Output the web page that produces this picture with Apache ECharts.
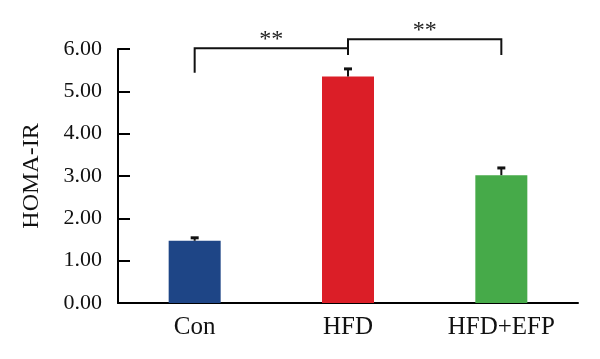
<!DOCTYPE html>
<html><head><meta charset="utf-8">
<script src="https://cdn.jsdelivr.net/npm/echarts@6/dist/echarts.min.js"></script>
<style>html,body{margin:0;padding:0;background:#fff}#c{width:600px;height:359px}</style>
</head><body><div id="c"></div>
<script>
var categories = ['Con', 'HFD', 'HFD+EFP'];
var values = [1.47, 5.35, 3.02];
var errors = [0.07, 0.18, 0.17];
var colors = ['#1e4586', '#db1e27', '#46aa49'];
var yTicks = [0, 1, 2, 3, 4, 5, 6];
// brackets: [fromIndex, toIndex, lowFrom, top, lowTo, label, labelY]
var brackets = [
  [0, 1, 5.44, 6.02, 5.86, '**', 6.31],
  [1, 2, 5.86, 6.23, 5.86, '**', 6.52]
];
var font = '"Liberation Serif", "DejaVu Serif", serif';
var chart = echarts.init(document.getElementById('c'), null, {renderer: 'canvas'});
chart.setOption({
  animation: false,
  grid: {left: 118, right: 22, top: 49, bottom: 56},
  xAxis: {
    type: 'category', data: categories,
    axisLine: {lineStyle: {color: '#000', width: 2}},
    axisTick: {show: false},
    axisLabel: {color: '#111', fontFamily: font, fontSize: 25, margin: 12}
  },
  yAxis: {
    type: 'value', min: yTicks[0], max: yTicks[yTicks.length - 1], interval: 1,
    name: 'HOMA-IR', nameLocation: 'middle', nameGap: 74, nameRotate: 90,
    nameTextStyle: {color: '#111', fontFamily: font, fontSize: 24},
    axisLine: {show: true, lineStyle: {color: '#000', width: 2}},
    axisTick: {show: true, inside: true, length: 12, lineStyle: {color: '#000', width: 2}},
    splitLine: {show: false},
    axisLabel: {color: '#111', fontFamily: font, fontSize: 22, margin: 16,
      formatter: function (v) { return v.toFixed(2); }}
  },
  series: [
    {
      type: 'bar', barWidth: 52,
      data: values.map(function (v, i) { return {value: v, itemStyle: {color: colors[i]}}; })
    },
    {
      type: 'custom', clip: false, z: 5,
      data: values.map(function (v, i) { return [i, v, errors[i]]; }),
      renderItem: function (params, api) {
        var x = api.value(0), v = api.value(1), e = api.value(2);
        var p0 = api.coord([x, v]);
        var p1 = api.coord([x, v + e]);
        var hw = 4;
        return {type: 'group', children: [
          {type: 'line', shape: {x1: p0[0], y1: p0[1], x2: p1[0], y2: p1[1]}, style: {stroke: '#111', lineWidth: 2}},
          {type: 'line', shape: {x1: p1[0] - hw, y1: p1[1], x2: p1[0] + hw, y2: p1[1]}, style: {stroke: '#111', lineWidth: 3}}
        ]};
      }
    },
    {
      type: 'custom', clip: false, z: 5,
      data: brackets,
      renderItem: function (params, api) {
        var b = brackets[params.dataIndex];
        var a1 = api.coord([b[0], b[2]]);
        var a2 = api.coord([b[0], b[3]]);
        var c2 = api.coord([b[1], b[3]]);
        var c1 = api.coord([b[1], b[4]]);
        var ty = api.coord([b[0], b[6]])[1];
        var tx = (a2[0] + c2[0]) / 2;
        return {type: 'group', children: [
          {type: 'polyline', shape: {points: [a1, a2, c2, c1]}, style: {stroke: '#111', lineWidth: 2, fill: null}},
          {type: 'text', x: tx, y: ty + 4, style: {text: b[5], fill: '#222', font: '24px ' + font, align: 'center', verticalAlign: 'middle'}}
        ]};
      }
    }
  ]
});
</script></body></html>
